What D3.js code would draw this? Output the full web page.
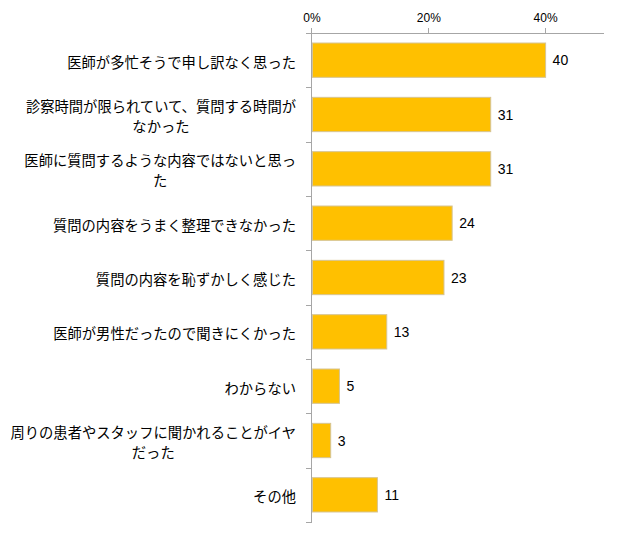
<!DOCTYPE html>
<html><head><meta charset="utf-8">
<script src="https://cdn.jsdelivr.net/npm/d3@7"></script>
<style>body{margin:0;background:#fff}</style>
</head><body>
<script>
const categories = [
  ["医師が多忙そうで申し訳なく思った"],
  ["診察時間が限られていて、質問する時間が","なかった"],
  ["医師に質問するような内容ではないと思っ","た"],
  ["質問の内容をうまく整理できなかった"],
  ["質問の内容を恥ずかしく感じた"],
  ["医師が男性だったので聞きにくかった"],
  ["わからない"],
  ["周りの患者やスタッフに聞かれることがイヤ","だった"],
  ["その他"]
];
// bar lengths (%)
const values = [40.0, 30.6, 30.6, 24.0, 22.6, 12.8, 4.7, 3.2, 11.2];
// labels printed next to the bars
const valueLabels = ["40", "31", "31", "24", "23", "13", "5", "3", "11"];
const tickValues = [0, 20, 40];

(function() {
const W = 631, H = 536;
const mL = 312, mR = 604, mT = 33, mB = 522;
const svg = d3.select("body").append("svg").attr("width", W).attr("height", H);

const x = d3.scaleLinear().domain([0, 50]).range([mL, mR]);
const ids = categories.map((d, i) => i);
const y = d3.scaleBand().domain(ids).range([mT, mB]).paddingInner(0.35).paddingOuter(0.175);
const axisColor = "#a6a6a6";

// bars
svg.selectAll(".bar").data(values).join("rect")
  .attr("x", mL + 0.5).attr("y", (d, i) => y(i) + 0.5)
  .attr("width", d => x(d) - mL - 0.5).attr("height", y.bandwidth() - 1)
  .attr("fill", "#FFC000").attr("stroke", "#d6c493").attr("stroke-width", 1);

// top axis
svg.append("line").attr("x1", mL).attr("x2", mR).attr("y1", mT + 0.5).attr("y2", mT + 0.5)
  .attr("stroke", axisColor);
svg.selectAll(".xt").data(tickValues).join("line")
  .attr("x1", d => Math.round(x(d)) - 0.5).attr("x2", d => Math.round(x(d)) - 0.5)
  .attr("y1", mT - 5).attr("y2", mT).attr("stroke", axisColor);
svg.selectAll(".xl").data(tickValues).join("text")
  .attr("x", d => x(d)).attr("y", 22).attr("text-anchor", "middle")
  .attr("font-family", "Liberation Sans, Arial, sans-serif").attr("font-size", 12).attr("fill", "#000")
  .text(d => d + "%");

// left axis
svg.append("line").attr("x1", mL - 0.5).attr("x2", mL - 0.5).attr("y1", mT).attr("y2", mB)
  .attr("stroke", axisColor);
const bounds = d3.range(categories.length + 1).map(i => mT + i * (mB - mT) / categories.length);
svg.selectAll(".yt").data(bounds).join("line")
  .attr("x1", mL - 6).attr("x2", mL).attr("y1", d => Math.round(d) + 0.5).attr("y2", d => Math.round(d) + 0.5)
  .attr("stroke", axisColor);

// value labels
svg.selectAll(".vl").data(values).join("text")
  .attr("x", d => x(d) + 7).attr("y", (d, i) => y(i) + y.bandwidth() / 2 + 5)
  .attr("font-family", "Liberation Sans, Arial, sans-serif").attr("font-size", 14).attr("fill", "#000")
  .text((d, i) => valueLabels[i]);

// category labels
const cl = svg.selectAll(".cl").data(categories).join("text")
  .attr("font-family", "Noto Sans CJK JP, sans-serif").attr("font-size", 14.3).attr("fill", "#000")
  .attr("text-anchor", "middle");
cl.each(function(lines, i) {
  const g = d3.select(this);
  const cy = y(i) + y.bandwidth() / 2;
  const lh = 20;
  const startY = cy - (lines.length - 1) * lh / 2 + 7.5;
  lines.forEach((t, j) => {
    g.append("tspan").attr("y", startY + j * lh).text(t);
  });
});
cl.each(function(lines, i) {
  const g = d3.select(this);
  const tsp = g.selectAll("tspan").nodes();
  const w0 = tsp[0].getComputedTextLength();
  const cx = 296 - w0 / 2;
  tsp.forEach(n => d3.select(n).attr("x", cx));
});
})();
</script>
</body></html>
